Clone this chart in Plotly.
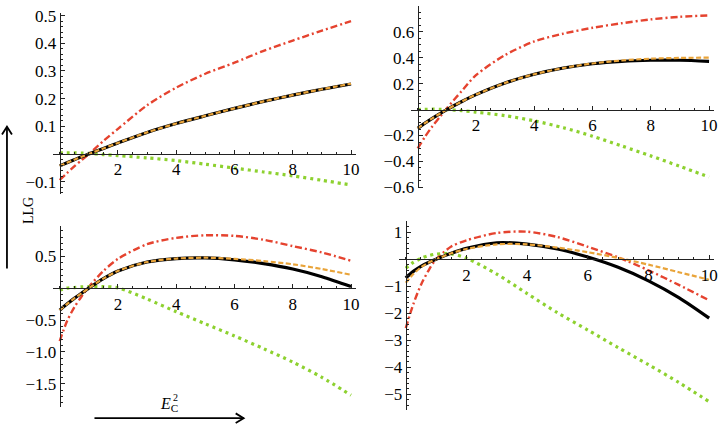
import plotly.graph_objects as go

# ---------------- data ----------------
X = [0, 0.25, 0.5, 0.75, 1, 1.5, 2, 3, 4, 5, 6, 7, 8, 9, 10]

p1_black  = [-0.043, -0.032, -0.021, -0.010, 0.0, 0.020, 0.040, 0.078, 0.110, 0.138, 0.165, 0.190, 0.213, 0.234, 0.253]
p1_orange = [-0.043, -0.032, -0.021, -0.010, 0.0, 0.020, 0.040, 0.078, 0.110, 0.138, 0.165, 0.190, 0.213, 0.234, 0.254]
p1_red    = [-0.094, -0.069, -0.045, -0.022, 0.0, 0.047, 0.091, 0.176, 0.240, 0.290, 0.330, 0.373, 0.410, 0.446, 0.480]
p1_green  = [0.004, 0.004, 0.004, 0.003, 0.002, -0.002, -0.006, -0.014, -0.024, -0.037, -0.051, -0.065, -0.079, -0.095, -0.112]

p2_black  = [-0.145, -0.105, -0.068, -0.033, 0.0, 0.060, 0.115, 0.205, 0.272, 0.320, 0.353, 0.372, 0.380, 0.380, 0.372]
p2_orange = [-0.145, -0.105, -0.068, -0.033, 0.0, 0.060, 0.115, 0.205, 0.272, 0.320, 0.355, 0.378, 0.392, 0.398, 0.400]
p2_red    = [-0.300, -0.210, -0.130, -0.060, 0.010, 0.140, 0.265, 0.420, 0.525, 0.585, 0.630, 0.665, 0.695, 0.715, 0.725]
p2_green  = [0.0, 0.002, 0.003, 0.002, 0.0, -0.008, -0.020, -0.047, -0.087, -0.140, -0.205, -0.280, -0.357, -0.438, -0.520]

p3_black  = [-0.345, -0.250, -0.160, -0.080, 0.0, 0.150, 0.270, 0.410, 0.465, 0.475, 0.445, 0.385, 0.300, 0.180, 0.025]
p3_orange = [-0.345, -0.250, -0.160, -0.080, 0.0, 0.150, 0.270, 0.410, 0.465, 0.478, 0.460, 0.425, 0.375, 0.300, 0.210]
p3_red    = [-0.830, -0.520, -0.300, -0.130, 0.020, 0.270, 0.460, 0.690, 0.790, 0.830, 0.820, 0.760, 0.660, 0.560, 0.430]
p3_green  = [-0.030, 0.0, 0.010, 0.020, 0.025, 0.025, 0.005, -0.170, -0.370, -0.560, -0.750, -0.950, -1.160, -1.400, -1.680]

p4_black  = [-0.69, -0.45, -0.26, -0.12, 0.0, 0.22, 0.40, 0.61, 0.56, 0.38, 0.08, -0.30, -0.80, -1.42, -2.18]
p4_orange = [-0.87, -0.55, -0.30, -0.13, 0.0, 0.22, 0.38, 0.55, 0.55, 0.43, 0.26, 0.05, -0.20, -0.48, -0.76]
p4_red    = [-2.55, -1.66, -0.95, -0.42, 0.0, 0.47, 0.70, 0.97, 1.02, 0.82, 0.46, 0.07, -0.41, -0.95, -1.52]
p4_green  = [-0.33, -0.12, 0.03, 0.13, 0.19, 0.20, 0.04, -0.55, -1.27, -1.98, -2.62, -3.27, -3.90, -4.56, -5.27]

x_ticks = [2, 4, 6, 8, 10]
p1_yticks = [-0.1, 0.1, 0.2, 0.3, 0.4, 0.5]
p2_yticks = [-0.6, -0.4, -0.2, 0.2, 0.4, 0.6]
p3_yticks = [-1.5, -1.0, -0.5, 0.5]
p4_yticks = [-5, -4, -3, -2, -1, 1]

p1_ylabels = ["−0.1", "0.1", "0.2", "0.3", "0.4", "0.5"]
p2_ylabels = ["−0.6", "−0.4", "−0.2", "0.2", "0.4", "0.6"]
p3_ylabels = ["−1.5", "−1.0", "−0.5", "0.5"]
p4_ylabels = ["−5", "−4", "−3", "−2", "−1", "1"]

# ---------------- layout helpers ----------------
W, H = 720, 433
def fx(px):
    return px / W
def fy(py):
    return 1 - py / H

FONT = "Liberation Serif, Times New Roman, serif"
RED = "#E5432F"
ORANGE = "#E9A43A"
GREEN = "#8DD12F"
AXC = "#222222"
TICKSIZE = 17

panels = [
    dict(curves=(p1_black, p1_orange, p1_red, p1_green), yt=p1_yticks, yl=p1_ylabels,
         xdom=(53, 358), xr=(-0.24, 10.17), ydom=(7, 195), yr=(-0.1455, 0.5105), ymin=0.02),
    dict(curves=(p2_black, p2_orange, p2_red, p2_green), yt=p2_yticks, yl=p2_ylabels,
         xdom=(413, 718), xr=(-0.24, 10.17), ydom=(0, 189), yr=(-0.608, 0.798), ymin=0.05),
    dict(curves=(p3_black, p3_orange, p3_red, p3_green), yt=p3_yticks, yl=p3_ylabels,
         xdom=(53, 358), xr=(-0.24, 10.17), ydom=(228, 415), yr=(-1.859, 0.974), ymin=0.1),
    dict(curves=(p4_black, p4_orange, p4_red, p4_green), yt=p4_yticks, yl=p4_ylabels,
         xdom=(401, 718), xr=(-0.23, 10.16), ydom=(223, 419), yr=(-5.596, 1.404), ymin=0.2),
]

fig = go.Figure()
layout = {}
for i, p in enumerate(panels, start=1):
    xa = "x" if i == 1 else f"x{i}"
    ya = "y" if i == 1 else f"y{i}"
    black, orange, red, green = p["curves"]
    common = dict(x=X, xaxis=xa, yaxis=ya, mode="lines", showlegend=False, hoverinfo="skip")
    fig.add_trace(go.Scatter(y=red, line=dict(color=RED, width=2.4, dash="7px,3px,2px,3px",
                                              shape="spline", smoothing=0.8), **common))
    fig.add_trace(go.Scatter(y=green, line=dict(color=GREEN, width=3.2, dash="3px,4px",
                                                shape="spline", smoothing=0.8), **common))
    fig.add_trace(go.Scatter(y=black, line=dict(color="black", width=3.2,
                                                shape="spline", smoothing=0.8), **common))
    fig.add_trace(go.Scatter(y=orange, line=dict(color=ORANGE, width=2.2, dash="5px,2.5px",
                                                 shape="spline", smoothing=0.8), **common))

    xd = (fx(p["xdom"][0]), fx(p["xdom"][1]))
    yd = (fy(p["ydom"][1]), fy(p["ydom"][0]))
    xr, yr = p["xr"], p["yr"]
    xpos = yd[0] + (0 - yr[0]) / (yr[1] - yr[0]) * (yd[1] - yd[0])
    ypos = xd[0] + (0 - xr[0]) / (xr[1] - xr[0]) * (xd[1] - xd[0])
    suffix = "" if i == 1 else str(i)
    layout["xaxis" + suffix] = dict(
        domain=list(xd), range=list(xr), anchor="free", position=xpos,
        showline=True, linecolor=AXC, linewidth=1, showgrid=False, zeroline=False,
        tickmode="array", tickvals=x_ticks, ticktext=[str(v) for v in x_ticks],
        ticks="inside", ticklen=4, tickwidth=1, tickcolor=AXC,
        minor=dict(tickmode="linear", tick0=0, dtick=0.5, ticks="inside", ticklen=2,
                   tickcolor=AXC, showgrid=False),
        tickfont=dict(family=FONT, size=TICKSIZE, color="black"),
        ticklabeloverflow="allow",
        fixedrange=True,
    )
    layout["yaxis" + suffix] = dict(
        domain=list(yd), range=list(yr), anchor="free", position=ypos,
        showline=True, linecolor=AXC, linewidth=1, showgrid=False, zeroline=False,
        tickmode="array", tickvals=p["yt"], ticktext=p["yl"],
        ticks="inside", ticklen=4, tickwidth=1, tickcolor=AXC,
        minor=dict(tickmode="linear", tick0=0, dtick=p["ymin"], ticks="inside", ticklen=2,
                   tickcolor=AXC, showgrid=False),
        tickfont=dict(family=FONT, size=TICKSIZE, color="black"),
        ticklabeloverflow="allow",
        fixedrange=True,
    )

annotations = [
    dict(text="LLG", x=fx(19), y=fy(212), xref="paper", yref="paper", showarrow=False,
         textangle=-90, font=dict(family=FONT, size=14, color="black")),
    dict(text="<i>E</i><sub>C</sub>", x=fx(159), y=fy(413), xref="paper", yref="paper",
         xanchor="left", yanchor="middle", showarrow=False,
         font=dict(family=FONT, size=16, color="black")),
    dict(text="2", x=fx(172), y=fy(406), xref="paper", yref="paper",
         xanchor="left", yanchor="middle", showarrow=False,
         font=dict(family=FONT, size=10, color="black")),
]

def ppath(points):
    return "M " + " L ".join(f"{fx(a):.5f},{fy(b):.5f}" for a, b in points)

arrow_line = dict(color="black", width=1.8)
shapes = [
    # vertical LLG arrow
    dict(type="line", xref="paper", yref="paper", x0=fx(7), y0=fy(272), x1=fx(7), y1=fy(125),
         line=arrow_line),
    dict(type="path", xref="paper", yref="paper", path=ppath([(2, 133), (7, 125), (12, 133)]),
         line=arrow_line),
    # horizontal E_C^2 arrow
    dict(type="line", xref="paper", yref="paper", x0=fx(95), y0=fy(427), x1=fx(245), y1=fy(427),
         line=arrow_line),
    dict(type="path", xref="paper", yref="paper", path=ppath([(237, 422), (245, 427), (237, 432)]),
         line=arrow_line),
]

fig.update_layout(
    width=W, height=H, margin=dict(l=0, r=0, t=0, b=0),
    paper_bgcolor="white", plot_bgcolor="white",
    showlegend=False, annotations=annotations, shapes=shapes, **layout,
)

fig.write_html("out.html", config={"displayModeBar": False},
               post_script="document.body.style.margin='0';")
